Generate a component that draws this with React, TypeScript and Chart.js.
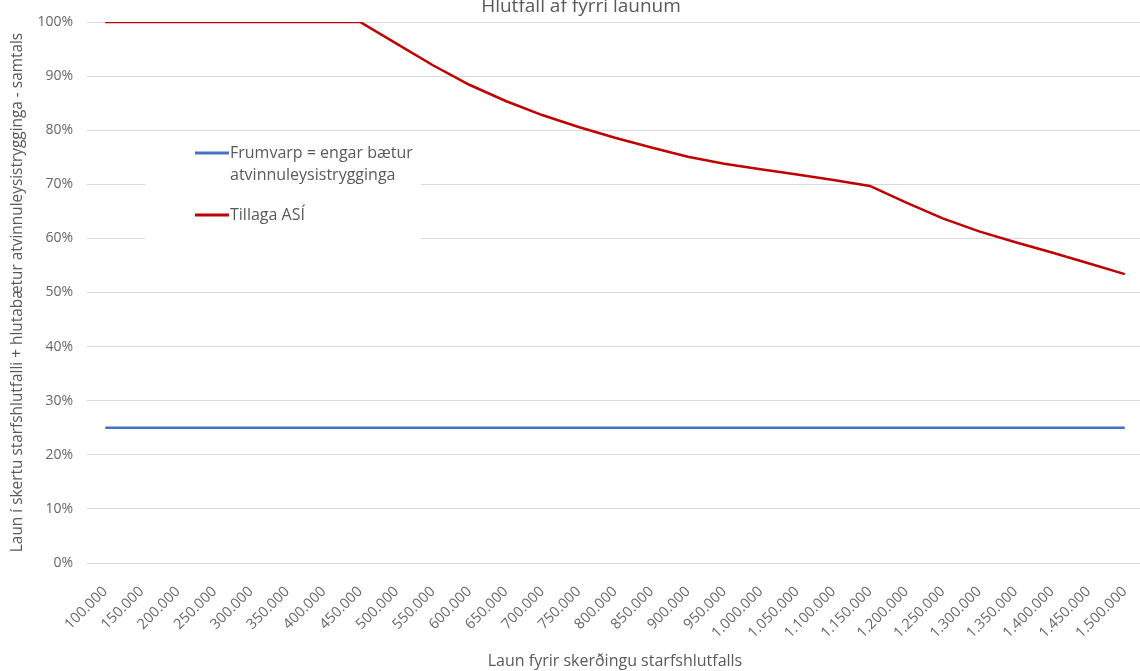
import React, { useEffect, useRef } from "react";
import { Chart, registerables } from "chart.js";

Chart.register(...registerables);

const chartTitle = "Hlutfall af fyrri launum";
const xAxisTitle = "Laun fyrir skerðingu starfshlutfalls";
const yAxisTitle = "Laun í skertu starfshlutfalli + hlutabætur atvinnuleysistrygginga - samtals";

const categories = [
  "100.000", "150.000", "200.000", "250.000", "300.000", "350.000", "400.000", "450.000",
  "500.000", "550.000", "600.000", "650.000", "700.000", "750.000", "800.000", "850.000",
  "900.000", "950.000", "1.000.000", "1.050.000", "1.100.000", "1.150.000", "1.200.000",
  "1.250.000", "1.300.000", "1.350.000", "1.400.000", "1.450.000", "1.500.000",
];

const frumvarpLabel = ["Frumvarp = engar bætur", "atvinnuleysistrygginga"];
const frumvarpValues = [
  25, 25, 25, 25, 25, 25, 25, 25, 25, 25, 25, 25, 25, 25, 25, 25, 25, 25, 25, 25, 25, 25, 25,
  25, 25, 25, 25, 25, 25,
];

const tillagaLabel = ["Tillaga ASÍ"];
const tillagaValues = [
  100, 100, 100, 100, 100, 100, 100, 100, 96, 92, 88.4, 85.4, 82.8, 80.6, 78.6, 76.8, 75.1,
  73.8, 72.8, 71.8, 70.8, 69.7, 66.6, 63.7, 61.3, 59.3, 57.4, 55.4, 53.4,
];

const yTicks = [0, 10, 20, 30, 40, 50, 60, 70, 80, 90, 100];

const TEXT = "#595959";
const TICK = "#666666";
const GRID = "#d9d9d9";
const FONT = "'Open Sans', 'Noto Sans', sans-serif";

const titlePlugin = {
  id: "wideTitle",
  afterDraw(chart: any) {
    const { ctx } = chart;
    ctx.save();
    ctx.fillStyle = TEXT;
    ctx.font = `19px ${FONT}`;
    ctx.textAlign = "center";
    ctx.textBaseline = "middle";
    ctx.fillText(chartTitle, chart.width / 2, 17);
    ctx.restore();
  },
};

const legendPlugin = {
  id: "boxLegend",
  beforeDatasetsDraw(chart: any) {
    const { ctx, chartArea } = chart;
    const bx = chartArea.left + 58;
    const by = chartArea.top + 113;
    ctx.save();
    ctx.fillStyle = "#ffffff";
    ctx.fillRect(bx, by, 276, 110);
    const items = chart.data.datasets;
    const rows = [chartArea.top + 131, chartArea.top + 193];
    items.forEach((ds: any, i: number) => {
      const y = rows[i];
      ctx.strokeStyle = ds.borderColor;
      ctx.lineWidth = 3;
      ctx.beginPath();
      ctx.moveTo(chartArea.left + 108, y);
      ctx.lineTo(chartArea.left + 142, y);
      ctx.stroke();
      ctx.fillStyle = TEXT;
      ctx.font = `16px ${FONT}`;
      ctx.textBaseline = "middle";
      ctx.textAlign = "left";
      const lines: string[] = ds.legendLines;
      lines.forEach((t, j) => ctx.fillText(t, chartArea.left + 143, y + j * 22));
    });
    ctx.restore();
  },
};

export default function App() {
  const ref = useRef<HTMLCanvasElement | null>(null);
  useEffect(() => {
    if (!ref.current) return;
    const chart = new Chart(ref.current, {
      type: "line",
      data: {
        labels: categories,
        datasets: [
          {
            label: frumvarpLabel.join(" "),
            legendLines: frumvarpLabel,
            data: frumvarpValues,
            borderColor: "#4472C4",
            backgroundColor: "#4472C4",
            borderWidth: 2.5,
            pointRadius: 0,
            tension: 0,
          } as any,
          {
            label: tillagaLabel.join(" "),
            legendLines: tillagaLabel,
            data: tillagaValues,
            borderColor: "#C00000",
            backgroundColor: "#C00000",
            borderWidth: 2.5,
            pointRadius: 0,
            tension: 0,
          } as any,
        ],
      },
      options: {
        responsive: false,
        animation: false,
        layout: { padding: { left: 0, right: 19, top: 32, bottom: 0 } },
        plugins: {
          legend: { display: false },
          tooltip: { enabled: false },
          title: { display: false },
        },
        scales: {
          x: {
            type: "category",
            offset: true,
            grid: { display: false, drawTicks: false },
            border: { display: false },
            ticks: {
              color: TICK,
              font: { family: FONT, size: 14.5 },
              minRotation: 45,
              maxRotation: 45,
              autoSkip: false,
              padding: 20,
            },
            title: {
              display: true,
              text: xAxisTitle,
              color: TEXT,
              font: { family: FONT, size: 16 },
              padding: { top: 4, bottom: 4 },
            },
            afterFit(scale: any) {
              scale.height = 112;
            },
          },
          y: {
            min: 0,
            max: 100,
            afterBuildTicks(scale: any) {
              scale.ticks = yTicks.map((v) => ({ value: v }));
            },
            grid: { color: GRID, lineWidth: 1, drawTicks: false },
            border: { display: false },
            ticks: {
              color: TICK,
              font: { family: FONT, size: 14 },
              padding: 14,
              callback: (v: any) => `${v}%`,
            },
            title: {
              display: true,
              text: yAxisTitle,
              color: TEXT,
              font: { family: FONT, size: 15.4 },
              padding: { top: 8.5, bottom: 0 },
            },
            afterFit(scale: any) {
              scale.width = 87;
            },
          },
        },
      },
      plugins: [legendPlugin, titlePlugin],
    });
    return () => chart.destroy();
  }, []);

  return (
    <div
      style={{
        position: "fixed",
        left: 0,
        top: 0,
        width: 1140,
        height: 671,
        overflow: "hidden",
        background: "#ffffff",
      }}
    >
      <canvas
        ref={ref}
        width={1162}
        height={685}
        style={{ position: "absolute", left: 0, top: -10, width: 1162, height: 685 }}
      />
    </div>
  );
}
